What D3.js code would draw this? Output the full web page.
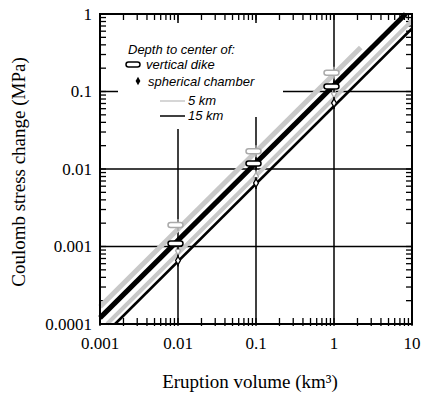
<!DOCTYPE html>
<html>
<head>
<meta charset="utf-8">
<script src="https://cdn.jsdelivr.net/npm/d3@7"></script>
<style>
  body { margin:0; background:#fff; }
  text { font-family: "Liberation Serif", "Times New Roman", serif; fill:#000; }
  .leg { font-family: "Liberation Sans", Arial, sans-serif; font-style: italic; font-size:13px; }
</style>
</head>
<body>
<div id="chart"></div>
<script>
const svgWidth = 422;
const svgHeight = 398;
const plot = {left:100, right:412, top:14, bottom:324};

// axis ticks / labels
const xMajor = [0.001, 0.01, 0.1, 1, 10];
const xTickLabels = ["0.001", "0.01", "0.1", "1", "10"];
const yMajor = [0.0001, 0.001, 0.01, 0.1, 1];
const yTickLabels = ["0.0001", "0.001", "0.01", "0.1", "1"];
const gridX = [0.01, 0.1, 1];
const gridY = [0.001, 0.01, 0.1];

// model lines (volume km3, stress MPa)
const dike5Line = [{v:0.001, s:0.000167}, {v:2.2, s:0.37}];
const dike15Line = [{v:0.001, s:0.00012}, {v:8.3, s:1}];
const sphere5Line = [{v:0.00123, s:0.0001}, {v:10, s:0.82}];
const sphere15Line = [{v:0.00156, s:0.0001}, {v:10, s:0.65}];

// marker values at eruption volumes
const volumes = [0.01, 0.1, 1];
const dike5km = [0.0019, 0.0170, 0.175];
const dike15km = [0.00109, 0.0118, 0.116];
const sphere5km = [0.00088, 0.0080, 0.094];
const sphere15km = [0.00066, 0.0066, 0.071];

const gray = "#c8c8c8";

document.addEventListener("DOMContentLoaded", function(){ drawChart(); });

function drawChart(){
    const svg = d3.select("#chart").append("svg")
        .attr("width", svgWidth).attr("height", svgHeight);

    const x = d3.scaleLog().base(10).domain([0.001, 10]).range([plot.left, plot.right]);
    const y = d3.scaleLog().base(10).domain([0.0001, 1]).range([plot.bottom, plot.top]);

    // grid lines
    svg.selectAll(".gx").data(gridX).enter().append("line")
        .attr("x1", d => x(d)).attr("x2", d => x(d))
        .attr("y1", plot.top).attr("y2", plot.bottom)
        .attr("stroke", "#000").attr("stroke-width", 1.5);
    svg.selectAll(".gy").data(gridY).enter().append("line")
        .attr("x1", plot.left).attr("x2", plot.right)
        .attr("y1", d => y(d)).attr("y2", d => y(d))
        .attr("stroke", "#000").attr("stroke-width", 1.5);

    // legend background hides grid
    svg.append("rect").attr("x", 118).attr("y", 23).attr("width", 165).attr("height", 94).attr("fill", "#fff");
    svg.append("rect").attr("x", 118).attr("y", 116).attr("width", 122).attr("height", 13).attr("fill", "#fff");

    // minor/major ticks, inward
    const xt = x.ticks(), yt = y.ticks();
    svg.selectAll(".tb").data(xt).enter().append("line")
        .attr("x1", d => x(d)).attr("x2", d => x(d))
        .attr("y1", plot.bottom + 2).attr("y2", plot.bottom - 6)
        .attr("stroke", "#000").attr("stroke-width", 1.3);
    svg.selectAll(".tt").data(xt).enter().append("line")
        .attr("x1", d => x(d)).attr("x2", d => x(d))
        .attr("y1", plot.top).attr("y2", plot.top + 6)
        .attr("stroke", "#000").attr("stroke-width", 1.3);
    svg.selectAll(".tl").data(yt).enter().append("line")
        .attr("x1", plot.left).attr("x2", plot.left + 6)
        .attr("y1", d => y(d)).attr("y2", d => y(d))
        .attr("stroke", "#000").attr("stroke-width", 1.3);
    svg.selectAll(".tr").data(yt).enter().append("line")
        .attr("x1", plot.right).attr("x2", plot.right - 6)
        .attr("y1", d => y(d)).attr("y2", d => y(d))
        .attr("stroke", "#000").attr("stroke-width", 1.3);

    // model lines
    const line = d3.line().x(d => x(d.v)).y(d => y(d.s));
    svg.append("path").datum(dike5Line).attr("d", line)
        .attr("fill", "none").attr("stroke", gray).attr("stroke-width", 5);
    svg.append("path").datum(sphere5Line).attr("d", line)
        .attr("fill", "none").attr("stroke", gray).attr("stroke-width", 4);
    svg.append("path").datum(dike15Line).attr("d", line)
        .attr("fill", "none").attr("stroke", "#000").attr("stroke-width", 5);
    svg.append("path").datum(sphere15Line).attr("d", line)
        .attr("fill", "none").attr("stroke", "#000").attr("stroke-width", 2.5);

    // markers
    function errBar(vals, color){
        svg.append("g").selectAll("line").data(volumes).enter().append("line")
            .attr("x1", d => x(d)).attr("x2", d => x(d))
            .attr("y1", (d,i) => y(vals[i]) - 6).attr("y2", (d,i) => y(vals[i]) + 6)
            .attr("stroke", color).attr("stroke-width", 1.5);
    }
    function dikes(vals, color){
        errBar(vals, color);
        svg.append("g").selectAll("rect").data(volumes).enter().append("rect")
            .attr("x", d => x(d) - 10).attr("y", (d,i) => y(vals[i]) - 2.5)
            .attr("width", 15).attr("height", 5).attr("rx", 2.5)
            .attr("fill", "#fff").attr("stroke", color).attr("stroke-width", 1.5);
    }
    function spheres(vals, color){
        errBar(vals, color);
        svg.append("g").selectAll("path").data(volumes).enter().append("path")
            .attr("transform", (d,i) => "translate(" + x(d) + "," + y(vals[i]) + ")")
            .attr("d", d3.symbol().type(d3.symbolDiamond).size(20))
            .attr("fill", "#fff").attr("stroke", color).attr("stroke-width", 1.3);
    }
    spheres(sphere5km, "#aaa");
    spheres(sphere15km, "#000");
    dikes(dike5km, "#aaa");
    dikes(dike15km, "#000");

    // frame
    svg.append("rect").attr("x", plot.left).attr("y", plot.top)
        .attr("width", plot.right - plot.left).attr("height", plot.bottom - plot.top)
        .attr("fill", "none").attr("stroke", "#000").attr("stroke-width", 2);

    // tick labels
    svg.selectAll(".xl").data(xMajor).enter().append("text")
        .attr("x", d => x(d)).attr("y", 349)
        .attr("text-anchor", "middle").attr("font-size", 17)
        .text((d,i) => xTickLabels[i]);
    svg.selectAll(".yl").data(yMajor).enter().append("text")
        .attr("x", plot.left - 8).attr("y", d => y(d)).attr("dy", "0.33em")
        .attr("text-anchor", "end").attr("font-size", 17)
        .text((d,i) => yTickLabels[i]);

    // axis titles
    svg.append("text")
        .attr("transform", "translate(25,172)rotate(-90)")
        .attr("text-anchor", "middle").attr("font-size", 19)
        .text("Coulomb stress change (MPa)");
    svg.append("text")
        .attr("x", 250).attr("y", 388)
        .attr("text-anchor", "middle").attr("font-size", 19)
        .text("Eruption volume (km³)");

    // legend
    svg.append("text").attr("class", "leg").attr("x", 128).attr("y", 54).text("Depth to center of:");
    svg.append("rect").attr("x", 126).attr("y", 62).attr("width", 14).attr("height", 5).attr("rx", 2.5)
        .attr("fill", "#fff").attr("stroke", "#000").attr("stroke-width", 1.5);
    svg.append("text").attr("class", "leg").attr("x", 146).attr("y", 69).text("vertical dike");
    svg.append("path").attr("transform", "translate(138,81)")
        .attr("d", d3.symbol().type(d3.symbolDiamond).size(20)).attr("fill", "#000");
    svg.append("text").attr("class", "leg").attr("x", 148).attr("y", 86).text("spherical chamber");
    svg.append("line").attr("x1", 160).attr("x2", 185).attr("y1", 101).attr("y2", 101)
        .attr("stroke", gray).attr("stroke-width", 1.5);
    svg.append("text").attr("class", "leg").attr("x", 188).attr("y", 105).text("5 km");
    svg.append("line").attr("x1", 160).attr("x2", 185).attr("y1", 116).attr("y2", 116)
        .attr("stroke", "#000").attr("stroke-width", 1.5);
    svg.append("text").attr("class", "leg").attr("x", 188).attr("y", 120).text("15 km");
}
</script>
</body>
</html>
